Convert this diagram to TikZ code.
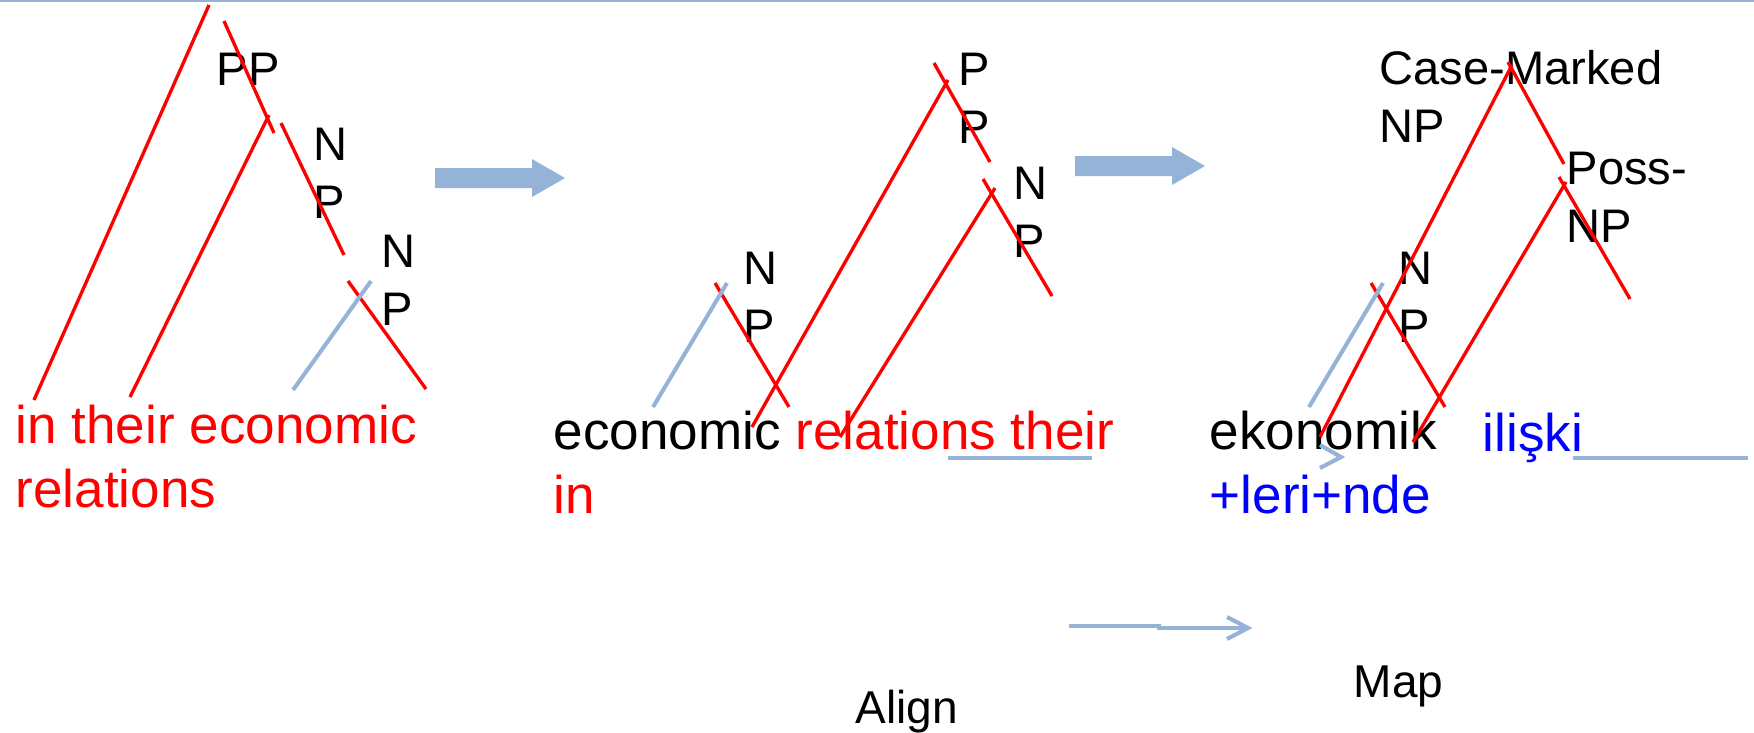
\documentclass[tikz,border=0pt]{standalone}
\usepackage{fontspec}
\setmainfont{Liberation Sans}
\usepackage{tikz}
\usetikzlibrary{arrows.meta,calc,positioning}
\definecolor{azzurro}{HTML}{95B3D7}

\begin{document}
\begin{tikzpicture}[x=0.1mm,y=-0.1mm,
  ramo/.style={red,line width=0.95pt},
  guida/.style={azzurro,line width=1.15pt},
  etich/.style={inner sep=0pt,anchor=base west,align=left,font=\fontsize{13.4pt}{16.5pt}\selectfont},
  parola/.style={inner sep=0pt,anchor=base west,align=left,font=\fontsize{15.1pt}{18.2pt}\selectfont}]
\useasboundingbox (0,0) rectangle (1754,732);
% linea in alto
\draw[azzurro,line width=0.6pt] (0,1) -- (1754,1);
% frecce grosse
\foreach \x/\y in {435/178,1075/166}
  \fill[azzurro] (\x,\y-10) -- ++(97,0) -- ++(0,-9) -- ++(33,19) -- ++(-33,19) -- ++(0,-9) -- ++(-97,0) -- cycle;

% albero inglese (ancora = ultima riga)
\node[etich] (pp1) at (216,85) {PP};
\node[etich] (np1) at (313,218) {N\\P};
\node[etich] (np2) at (381,325) {N\\P};
\node[parola,red] (frase1) at (15,507) {in their economic\\relations};
\draw[ramo] (209,5) -- (34,400);
\draw[ramo] (224,21) -- (274,133);
\draw[ramo] (269,115) -- (130,397);
\draw[ramo] (281,123) -- (344,255);
\draw[ramo] (348,281) -- (426,389);
\draw[guida] (371,281) -- (293,390);

% albero riordinato
\node[etich] (pp2) at (958,143) {P\\P};
\node[etich] (np3) at (1013,257) {N\\P};
\node[etich] (np4) at (743,342) {N\\P};
\node[parola] (frase2) at (553,513) {economic \textcolor{red}{relations their}\\\textcolor{red}{in}};
\draw[ramo] (934,63) -- (990,162);
\draw[ramo] (948,80) -- (752,427);
\draw[ramo] (983,179) -- (1052,296);
\draw[ramo] (995,188) -- (840,437);
\draw[ramo] (715,283) -- (789,407);
\draw[guida] (727,283) -- (653,407);
\draw[guida] (948,458) -- (1092,458);

% albero turco
\node[etich] (cmnp) at (1379,142) {Case-Marked\\NP};
\node[etich] (possnp) at (1566,242) {Poss-\\NP};
\node[etich] (np5) at (1398,342) {N\\P};
\node[parola] (ekon) at (1209,513) {ekonomik\\\textcolor{blue}{+leri+nde}};
\node[parola,blue] (iliski) at (1482,451) {ilişki};
\draw[ramo] (1512,65) -- (1320,437);
\draw[ramo] (1508,62) -- (1564,164);
\draw[ramo] (1559,177) -- (1630,299);
\draw[ramo] (1566,182) -- (1413,442);
\draw[ramo] (1371,283) -- (1445,407);
\draw[guida] (1383,283) -- (1309,407);
\draw[guida] (1573,458) -- (1748,458);
\draw[guida] (1320,445) -- (1341,457) -- (1320,468);

% passi in basso
\node[etich,font=\fontsize{13.1pt}{16pt}\selectfont] (allinea) at (855,723) {Align};
\node[etich,font=\fontsize{13.1pt}{16pt}\selectfont] (mappa) at (1353,697) {Map};
\draw[guida] (1069,626) -- (1159,626) -- (1159,628) -- (1246,628);
\draw[guida] (1227,617) -- (1248,628) -- (1227,639);
\end{tikzpicture}
\end{document}
